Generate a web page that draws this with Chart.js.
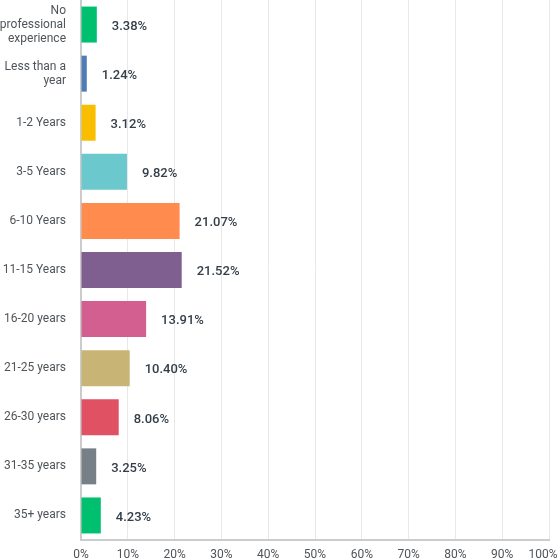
<!DOCTYPE html>
<html>
<head>
<meta charset="utf-8">
<script src="https://cdn.jsdelivr.net/npm/chart.js@4"></script>
<style>
html,body{margin:0;padding:0;background:#fff;}
#wrap{width:558px;height:560px;}
</style>
</head>
<body>
<div id="wrap"><canvas id="c" width="558" height="560"></canvas></div>
<script>
const categories = [
  ["No","professional","experience"],
  ["Less than a","year"],
  "1-2 Years",
  "3-5 Years",
  "6-10 Years",
  "11-15 Years",
  "16-20 years",
  "21-25 years",
  "26-30 years",
  "31-35 years",
  "35+ years"
];
const values = [3.38, 1.24, 3.12, 9.82, 21.07, 21.52, 13.91, 10.40, 8.06, 3.25, 4.23];
const colors = ["#00bf6f","#507cb6","#f9be00","#6bc8cd","#ff8b4f","#7f5f90","#d25f90","#c8b475","#e05163","#768086","#00bf6f"];
const xTicks = [0,10,20,30,40,50,60,70,80,90,100];

const valueLabels = {
  id:'valueLabels',
  afterDatasetsDraw(chart){
    const ctx = chart.ctx;
    const meta = chart.getDatasetMeta(0);
    ctx.save();
    ctx.font = '500 13px Roboto, sans-serif';
    ctx.fillStyle = '#333e48';
    ctx.textAlign = 'left';
    ctx.textBaseline = 'middle';
    meta.data.forEach((bar,i)=>{
      ctx.fillText(values[i].toFixed(2)+'%', bar.x + 15, bar.y + 2);
    });
    ctx.restore();
  }
};

new Chart(document.getElementById('c'), {
  type:'bar',
  data:{
    labels:categories,
    datasets:[{data:values, backgroundColor:colors, borderWidth:0, barPercentage:0.733, categoryPercentage:1}]
  },
  options:{
    indexAxis:'y',
    responsive:false,
    animation:false,
    layout:{padding:{top:0,right:9,bottom:0,left:0}},
    plugins:{legend:{display:false}, tooltip:{enabled:false}},
    scales:{
      x:{
        min:0,max:100,
        afterBuildTicks(axis){ axis.ticks = xTicks.map(v=>({value:v})); },
        afterFit(axis){ axis.height = 20; axis.paddingLeft = 0; axis.paddingRight = 0; },
        grid:{color:'#e8e8e8', drawTicks:false},
        border:{color:'#cccccc', width:2},
        ticks:{padding:8, maxRotation:0, minRotation:0, color:'#4f5459', font:{family:'Roboto, sans-serif', size:12}, callback:v=> v===100 ? '100%    ' : v+'%'}
      },
      y:{
        grid:{display:false, drawTicks:false},
        border:{color:'#cccccc', width:2},
        afterFit(axis){ axis.width = 81; axis.paddingTop = 0; axis.paddingBottom = 0; },
        ticks:{padding:15, color:'#4f5459', font:{family:'Roboto, sans-serif', size:12, lineHeight:1.17}, autoSkip:false}
      }
    }
  },
  plugins:[valueLabels]
});
</script>
</body>
</html>
